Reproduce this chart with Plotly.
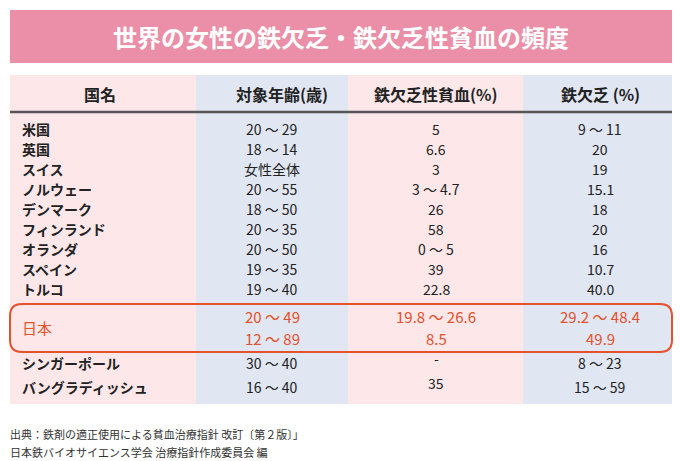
import plotly.graph_objects as go

title = "世界の女性の鉄欠乏・鉄欠乏性貧血の頻度"
headers = ["国名", "対象年齢(歳)", "鉄欠乏性貧血(%)", "鉄欠乏 (%)"]
countries = ["米国", "英国", "スイス", "ノルウェー", "デンマーク", "フィンランド",
             "オランダ", "スペイン", "トルコ"]
ages = ["20 ～ 29", "18 ～ 14", "女性全体", "20 ～ 55", "18 ～ 50", "20 ～ 35",
        "20 ～ 50", "19 ～ 35", "19 ～ 40"]
anemia = ["5", "6.6", "3", "3 ～ 4.7", "26", "58", "0 ～ 5", "39", "22.8"]
deficiency = ["9 ～ 11", "20", "19", "15.1", "18", "20", "16", "10.7", "40.0"]
japan_ages = ["20 ～ 49", "12 ～ 89"]
japan_anemia = ["19.8 ～ 26.6", "8.5"]
japan_def = ["29.2 ～ 48.4", "49.9"]
extra_countries = ["シンガーポール", "バングラディッシュ"]
extra_ages = ["30 ～ 40", "16 ～ 40"]
extra_anemia = ["-", "35"]
extra_def = ["8 ～ 23", "15 ～ 59"]
source = ["出典：鉄剤の適正使用による貧血治療指針 改訂〔第２版〕」",
          "日本鉄バイオサイエンス学会 治療指針作成委員会 編"]

PINK, BLUE, RED = "#fde7e9", "#e0e6f2", "#e4512b"
FONT = "Noto Sans CJK JP"
col_x = [10, 196, 348, 523, 672]
col_c = [272, 436, 600]

fig = go.Figure()
shapes = []
ann = []

def txt(x, y, s, size=14, color="#222", anchor="center", bold=False):
    ann.append(dict(x=x, y=y, text=f"<b>{s}</b>" if bold else s, showarrow=False,
                    xanchor=anchor, yanchor="middle",
                    font=dict(family=FONT, size=size, color=color)))

# title band
shapes.append(dict(type="rect", x0=10, x1=672, y0=10, y1=63, fillcolor="#eb8fa8", line_width=0))
txt(341, 36, title, size=24, color="white", bold=True)

# column backgrounds
for i in range(4):
    shapes.append(dict(type="rect", x0=col_x[i], x1=col_x[i+1], y0=75, y1=404,
                       fillcolor=PINK if i % 2 == 0 else BLUE, line_width=0, layer="below"))
shapes.append(dict(type="line", x0=10, x1=672, y0=112, y1=112, line=dict(color="#555", width=2.5)))

hx = [100, 282, 436, 600]
for x, h in zip(hx, headers):
    txt(x, 94, h, size=16, bold=True)

y0, dy = 129, 20
for i in range(len(countries)):
    y = y0 + i * dy
    txt(20, y, countries[i], size=14, anchor="left", bold=True)
    for c, v in zip(col_c, [ages[i], anemia[i], deficiency[i]]):
        txt(c, y, v, size=14)

# Japan
jy = [316, 338]
txt(20, 327, "日本", size=15, color=RED, anchor="left")
for k in range(2):
    for c, v in zip(col_c, [japan_ages[k], japan_anemia[k], japan_def[k]]):
        txt(c, jy[k], v, size=15, color=RED)
r = 12
shapes.append(dict(type="path", line=dict(color=RED, width=2),
                   path=f"M {10+r},304 L {672-r},304 Q 672,304 672,{304+r} L 672,{352-r} "
                        f"Q 672,352 {672-r},352 L {10+r},352 Q 10,352 10,{352-r} L 10,{304+r} Q 10,304 {10+r},304 Z"))

ey = [363, 387]
for k in range(2):
    txt(20, ey[k], extra_countries[k], size=14, anchor="left", bold=True)
    txt(col_c[0], ey[k], extra_ages[k], size=14)
    txt(col_c[2], ey[k], extra_def[k], size=14)
txt(col_c[1], 358, extra_anemia[0], size=14)
txt(col_c[1], 383, extra_anemia[1], size=14)

txt(8, 434, source[0], size=11, color="#333", anchor="left")
txt(8, 452, source[1], size=11, color="#333", anchor="left")

fig.update_layout(
    width=680, height=461, margin=dict(l=0, r=0, t=0, b=0),
    paper_bgcolor="white", plot_bgcolor="white",
    shapes=shapes, annotations=ann, showlegend=False,
    xaxis=dict(range=[0, 680], visible=False, fixedrange=True),
    yaxis=dict(range=[461, 0], visible=False, fixedrange=True),
)
fig.write_html("out.html", config={"displayModeBar": False},
               post_script="document.body.style.margin='0';document.body.style.overflow='hidden';")
